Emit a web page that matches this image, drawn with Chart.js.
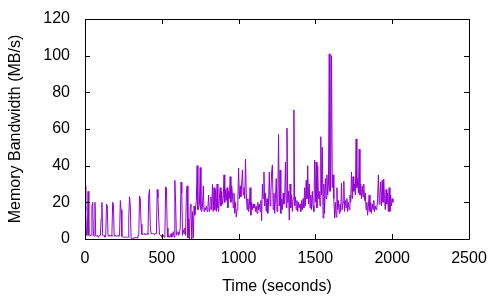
<!DOCTYPE html>
<html>
<head>
<meta charset="utf-8">
<script src="https://cdn.jsdelivr.net/npm/chart.js"></script>
<style>
  html, body { margin: 0; padding: 0; background: #fff; }
  #wrap { width: 500px; height: 300px; position: relative; }
</style>
</head>
<body>
<div id="wrap"><canvas id="memChart"></canvas></div>
<script>
// memory bandwidth samples (MB/s), one every 5 seconds starting at t = 0
const sampleStep = 5;
const bandwidth = [
  29,15,2,2,26,2,1.5,2,2,18,20,2,1.5,20,2,1.5,2,1,1.5,2,
  2,11,20,2,1.5,2,1,2,19,18,2,1.5,2,1.5,2,1.5,20,19,2,1.5,
  2,1.5,1.5,2,1.5,2,21,16,1.5,1,1,1,1,1,1,1,1,12,23,18,
  0.5,0.3,0,0.5,0.5,1,0.5,1,0.5,2,2,23.5,22,8,2.5,2.5,2.5,3,2.5,2.5,
  2.5,3,2.5,24,27,7,3,3,3,3,2.5,3,3,3,27,22.5,11,2.5,2,2,
  1,1,2,1,1.5,28.5,28,6,1,2,1,1,3,1,2,4,1,32,20,2,
  3,4,2,3,6,31,25,2,5,3,6,2,25,29,0.5,11,0,17.6,19,0,
  15,0.5,18,13,17,21,40,16,17,19,39,16,15,18,29,15,17,16,18,15,
  17,24,15,17,23,16,29.8,15,28,16,27,15,30,17,15,22,28,18,26,19,
  22,35,20,27,21,28,17,26,22,34,20,29,24,17,25,14,20,12,16,21,
  38.7,22,29,23,30,37.6,24,28,22,43.6,25,16,22,15,18,28,13,20,16,19,
  17,19,15,18,14,20,16,19,15,21,10,30,22,36.5,18,25,15,22,14,20,
  36.5,18,24,36.5,40.4,16,25,14,22,33,15,20,57,18,37.6,14,22,16,25,19,
  22,42,17,60.5,20,26,10.3,30,17,24,15,22,70.4,18,23,16,21,15,20,17,
  19,15,21,16,22,17,28,18,32,22,40,19,30,17,24,16,26,18,15,43,
  20,42,17,40,22,26,18,55.8,24,50,11.4,30,14,33,22,35,24,30,101,26,
  30,100,28,35,22,11.4,20,12,28,16,21,14,19,15,30.4,16,20,31.5,15,21,
  17,22,15,20,16,24,20,36.5,22,34,26,30,24,54.6,28,33,25,49,24,30,
  22,29,23,30,21,25,16,20,13,18,24,15,20,14,19,16,21,15,18,16,
  17,22,35,19,24,31,18,32,20,32.7,22,16,27,19,25,15,28,15,24,18,22,20
];
const times = bandwidth.map((v, i) => i * sampleStep);

const xTicks = [0, 500, 1000, 1500, 2000, 2500];
const yTicks = [0, 20, 40, 60, 80, 100, 120];

const font = { family: "'Liberation Sans', Arial, sans-serif", size: 16 };

// gnuplot style frame with inward ticks on all four sides
const frameTicks = {
  id: 'frameTicks',
  afterDatasetsDraw(chart) {
    const { ctx, chartArea: a, scales: { x, y } } = chart;
    const tl = 5;
    ctx.save();
    ctx.strokeStyle = '#000';
    ctx.lineWidth = 1;
    ctx.beginPath();
    ctx.rect(Math.round(a.left) + 0.5, Math.round(a.top) + 0.5,
             Math.round(a.right - a.left), Math.round(a.bottom - a.top));
    x.ticks.forEach(t => {
      const px = Math.round(x.getPixelForValue(t.value)) + 0.5;
      ctx.moveTo(px, a.bottom); ctx.lineTo(px, a.bottom - tl);
      ctx.moveTo(px, a.top); ctx.lineTo(px, a.top + tl);
    });
    y.ticks.forEach(t => {
      const py = Math.round(y.getPixelForValue(t.value)) + 0.5;
      ctx.moveTo(a.left, py); ctx.lineTo(a.left + tl, py);
      ctx.moveTo(a.right, py); ctx.lineTo(a.right - tl, py);
    });
    ctx.stroke();
    ctx.restore();
  }
};

new Chart(document.getElementById('memChart'), {
  type: 'line',
  data: {
    datasets: [{
      data: bandwidth.map((v, i) => ({ x: times[i], y: v })),
      borderColor: '#9400d3',
      borderWidth: 1,
      pointRadius: 0,
      tension: 0,
      fill: false
    }]
  },
  options: {
    responsive: true,
    maintainAspectRatio: false,
    animation: false,
    layout: { padding: { top: 19, right: 31, left: 0, bottom: 0 } },
    plugins: { legend: { display: false }, tooltip: { enabled: false } },
    scales: {
      x: {
        type: 'linear',
        min: 0, max: 2500,
        afterBuildTicks: s => { s.ticks = xTicks.map(v => ({ value: v })); },
        afterFit: s => { s.height = 61; s.paddingLeft = 0; s.paddingRight = 0; },
        grid: { display: false, drawTicks: false },
        border: { display: false },
        ticks: { color: '#000', font, padding: 10, maxRotation: 0, callback: v => String(v) },
        title: { display: true, text: 'Time (seconds)', color: '#000', font, padding: { top: 0, bottom: 4 } }
      },
      y: {
        min: 0, max: 120,
        afterBuildTicks: s => { s.ticks = yTicks.map(v => ({ value: v })); },
        afterFit: s => { s.width = 85; s.paddingTop = 0; s.paddingBottom = 0; },
        grid: { display: false, drawTicks: false },
        border: { display: false },
        ticks: { color: '#000', font, padding: 15, callback: v => String(v) },
        title: { display: true, text: 'Memory Bandwidth (MB/s)', color: '#000', font, padding: { top: 6, bottom: 0 } }
      }
    }
  },
  plugins: [frameTicks]
});
</script>
</body>
</html>
